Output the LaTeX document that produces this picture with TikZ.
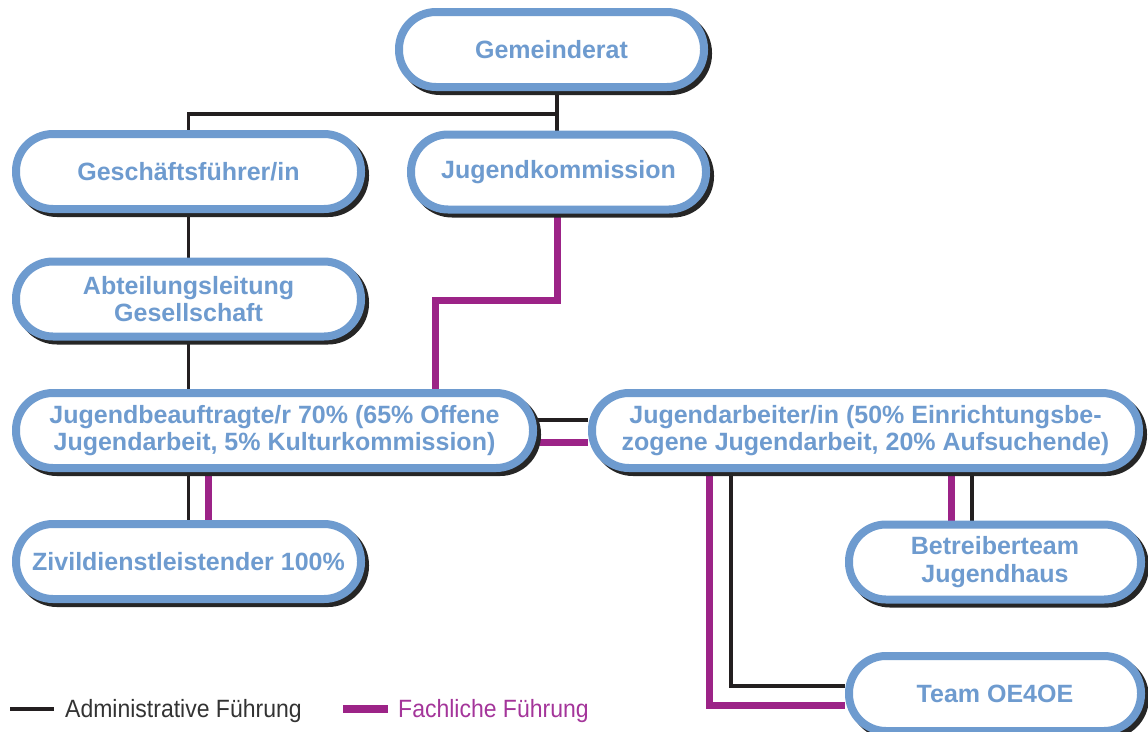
\documentclass[tikz,border=0pt]{standalone}
\usepackage{fontspec}
\setmainfont{Liberation Sans}
\newfontfamily\legfont[FakeStretch=0.92]{Liberation Sans}
\usetikzlibrary{shadows,calc,backgrounds}
\definecolor{nodeblue}{HTML}{6E9BCF}
\definecolor{fpurple}{HTML}{9C2387}
\definecolor{admblack}{HTML}{231F20}
\definecolor{legpurple}{HTML}{A4359A}
\definecolor{leggray}{HTML}{333333}
\begin{document}
\begin{tikzpicture}[x=1pt,y=-1pt,
  box/.style={draw=nodeblue, line width=8pt, fill=white, rounded corners=37pt,
    minimum height=75pt, inner sep=0pt, align=center, text=nodeblue,
    font=\fontsize{25}{27.5}\selectfont\bfseries,
    drop shadow={shadow xshift=4pt, shadow yshift=-4pt, fill=black!85, draw=black!85, opacity=1}},
  admline/.style={draw=admblack, line width=3.5pt, line join=miter},
  fachline/.style={draw=fpurple, line width=7pt, line join=miter},
  legtext/.style={anchor=base west, inner sep=0pt, font=\legfont\fontsize{25}{27.5}\selectfont},
]
\useasboundingbox (0,0) rectangle (1148,731);

% nodes
\node[box, minimum width=305pt] (gem) at (551.5,49.5) {Gemeinderat};
\node[box, minimum width=345pt] (gf) at (188.5,171.5) {Geschäftsführer/in};
\node[box, minimum width=295pt] (jk) at (558.5,172) {Jugendkommission};
\node[box, minimum width=345pt] (al) at (188.5,299) {Abteilungsleitung\\Gesellschaft};
\node[box, minimum width=517pt] (jb) at (274.5,430.5) {Jugendbeauftragte/r 70\% (65\% Offene\\Jugendarbeit, 5\% Kulturkommission)};
\node[box, minimum width=547pt] (ja) at (865.5,430.5) {Jugendarbeiter/in (50\% Einrichtungsbe-\\zogene Jugendarbeit, 20\% Aufsuchende)};
\node[box, minimum width=345pt] (zd) at (188.5,561.5) {Zivildienstleistender 100\%};
\node[box, minimum width=292pt] (bt) at (995,562) {Betreiberteam\\Jugendhaus};
\node[box, minimum width=292pt] (team) at (995,693.5) {Team OE4OE};

\coordinate (h1) at (557,114);
\coordinate (bend) at (435,300);

\begin{scope}[on background layer]
  % administrative (black)
  \draw[admline] (gem.south -| h1) -- (jk.north -| h1);
  \draw[admline] (h1) -| (gf.north);
  \draw[admline] (gf.south) -- (al.north);
  \draw[admline] (al.south) -- (al.south |- jb.north);
  \draw[admline] (zd.north |- jb.south) -- (zd.north);
  \draw[admline] ([yshift=10.5pt]jb.east) -- ([yshift=10.5pt]ja.west);
  \draw[admline] ([xshift=-134.5pt]ja.south) |- ([yshift=7.5pt]team.west);
  \draw[admline] ([xshift=-23pt]bt.north |- ja.south) -- ([xshift=-23pt]bt.north);
  % fachlich (purple)
  \draw[fachline] (jk.south -| h1) |- (bend) -- (bend |- jb.north);
  \draw[fachline] ([xshift=20pt]zd.north |- jb.south) -- ([xshift=20pt]zd.north);
  \draw[fachline] ([yshift=-11.5pt]jb.east) -- ([yshift=-11.5pt]ja.west);
  \draw[fachline] ([xshift=-156.5pt]ja.south) |- ([yshift=-11.5pt]team.west);
  \draw[fachline] ([xshift=-44pt]bt.north |- ja.south) -- ([xshift=-44pt]bt.north);
\end{scope}

% legend
\coordinate (la1) at (10,709);
\coordinate (la2) at (54,709);
\coordinate (lf1) at (343,709);
\coordinate (lf2) at (388,709);
\draw[admline, line width=4pt] (la1) -- (la2);
\draw[fachline, line width=8pt] (lf1) -- (lf2);
\node[legtext, text=leggray] (lt1) at (65,717) {Administrative Führung};
\node[legtext, text=legpurple] (lt2) at (398,717) {Fachliche Führung};
\end{tikzpicture}
\end{document}
